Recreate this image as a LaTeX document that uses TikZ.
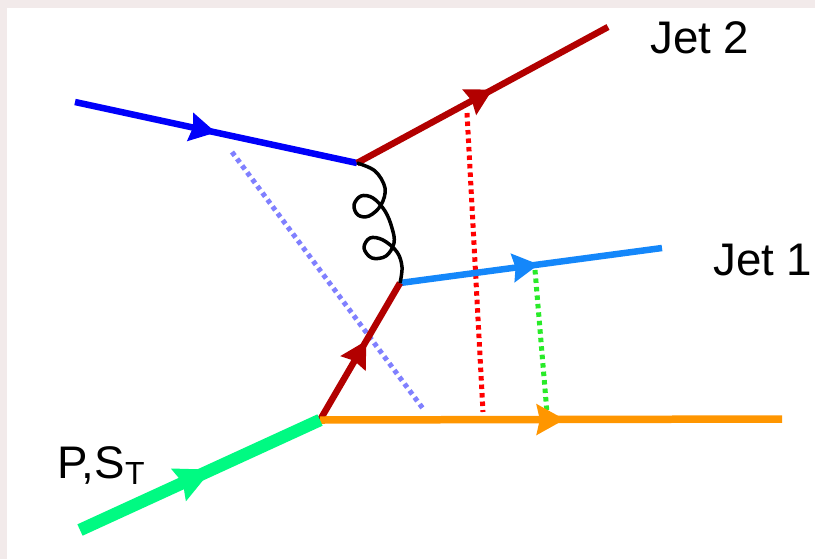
\documentclass[tikz,border=0pt]{standalone}
\usepackage{fontspec}
\setmainfont{Liberation Sans}
\usepackage{xcolor}
\usetikzlibrary{arrows.meta, decorations.markings}

\definecolor{qblue}{RGB}{0,0,250}
\definecolor{qred}{RGB}{178,0,0}
\definecolor{jetblue}{RGB}{20,135,250}
\definecolor{qorange}{RGB}{255,150,0}
\definecolor{pgreen}{RGB}{0,250,130}
\definecolor{lav}{RGB}{128,128,255}
\definecolor{dgreen}{RGB}{40,235,40}
\definecolor{frame}{RGB}{242,234,234}

\begin{document}
\begin{tikzpicture}[x=0.02cm, y=-0.02cm,
  fermion/.style={line width=0.13cm, postaction={decorate},
    decoration={markings, mark=at position #1 with
      {\arrow{Stealth[length=0.52cm, width=0.56cm, inset=0.05cm]}}}},
  fermion/.default=0.5,
  gluon/.style={line width=0.07cm, line join=round},
  corr/.style={line width=0.1cm, dash pattern=on 0.09cm off 0.08cm},
  lbl/.style={anchor=base west, inner sep=0pt, font=\fontsize{26}{30}\selectfont}
]
  % frame
  \fill[frame] (0,0) rectangle (815,559);
  \fill[white] (7,8) rectangle (815,559);
  \useasboundingbox (0,0) rectangle (815,559);

  % vertices and ends
  \coordinate (v1) at (357,163);
  \coordinate (v2) at (400,283);
  \coordinate (v0) at (320,420);
  \coordinate (qin) at (75,102);
  \coordinate (j2end) at (608,27);
  \coordinate (j1end) at (662,248);
  \coordinate (pin) at (80,530);
  \coordinate (remn) at (782,419);

  % correlation lines
  \coordinate (a1) at (232,152);
  \coordinate (a2) at (424,410);
  \coordinate (b1) at (467,113);
  \coordinate (b2) at (483,412);
  \coordinate (c1) at (535,270);
  \coordinate (c2) at (547,413);
  \draw[corr, lav] (a1) -- (a2);
  \draw[corr, red] (b1) -- (b2);
  \draw[corr, dgreen] (c1) -- (c2);

  % lines
  \draw[fermion, qblue] (qin) -- (v1);
  \draw[fermion=0.54, qred] (v1) -- (j2end);
  \draw[fermion=0.53, jetblue] (v2) -- (j1end);
  \draw[fermion=0.58, qred] (v0) -- (v2);
  \draw[qorange, line width=0.15cm, postaction={decorate},
    decoration={markings, mark=at position 0.53 with
      {\arrow{Stealth[length=0.56cm, width=0.6cm, inset=0.06cm]}}}] (v0) -- (remn);
  \draw[pgreen, line width=0.25cm, postaction={decorate},
    decoration={markings, mark=at position 0.55 with
      {\arrow{Stealth[length=0.72cm, width=0.68cm, inset=0.08cm]}}}] (pin) -- (v0);

  % gluon
  \draw[gluon] plot[smooth, tension=0.6] coordinates {(v1) (375,171) (385,188)
    (381,205) (369,216) (358,215) (354,205) (361,196) (373,198) (385,211)
    (392,228) (394,243) (386,256) (372,258) (364,248) (370,238) (383,240)
    (397,252) (402,267) (v2)};

  % labels
  \node[lbl] (jet2) at (650,53) {Jet 2};
  \node[lbl] (jet1) at (713,275) {Jet 1};
  \node[lbl] (beam) at (57,478) {P,S\textsubscript{T}};
\end{tikzpicture}
\end{document}
